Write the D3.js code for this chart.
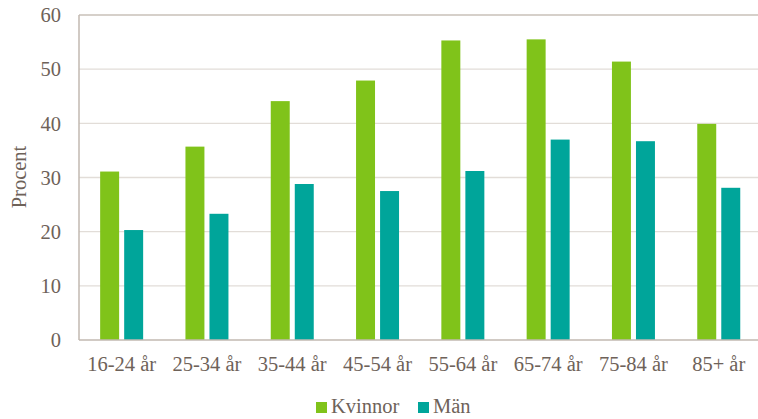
<!DOCTYPE html>
<html lang="sv">
<head>
<meta charset="utf-8">
<title>Procent per åldersgrupp</title>
<script src="https://d3js.org/d3.v7.min.js"></script>
<style>
  body { margin: 0; background: #fff; }
</style>
</head>
<body>
<script>
// data
const ageGroups = ["16-24 år", "25-34 år", "35-44 år", "45-54 år", "55-64 år", "65-74 år", "75-84 år", "85+ år"];
const kvinnor = [31.1, 35.7, 44.1, 47.9, 55.3, 55.5, 51.4, 39.9];
const man = [20.3, 23.3, 28.8, 27.5, 31.2, 37.0, 36.7, 28.1];
const seriesNames = ["Kvinnor", "Män"];
const seriesColors = ["#80c31a", "#00a59a"];
const yTicks = [0, 10, 20, 30, 40, 50, 60];

const W = 758, H = 419;
const plotLeft = 79, plotRight = 761.4, plotTop = 15, plotBottom = 340;
const textColor = "#6e6259";

const svg = d3.select("body").append("svg")
  .attr("width", W).attr("height", H)
  .attr("font-family", "'Liberation Serif', 'Times New Roman', Times, serif")
  .attr("fill", textColor);

const x = d3.scaleBand().domain(ageGroups).range([plotLeft, plotRight]);
const xSub = d3.scaleBand().domain(seriesNames)
  .range([x.bandwidth() / 2 - 21.5, x.bandwidth() / 2 + 21.5])
  .paddingInner(0.21);
const y = d3.scaleLinear().domain([0, 60]).range([plotBottom, plotTop]);

// grid lines
svg.append("g")
  .selectAll("line")
  .data(yTicks.filter(d => d > 0 && d < 60))
  .join("line")
  .attr("x1", plotLeft).attr("x2", W)
  .attr("y1", d => y(d)).attr("y2", d => y(d))
  .attr("stroke", "#e2ddd8").attr("stroke-width", 1.3);

// top border
svg.append("line")
  .attr("x1", plotLeft).attr("x2", W)
  .attr("y1", y(60)).attr("y2", y(60))
  .attr("stroke", "#c9c1b9").attr("stroke-width", 1.5);

// bars
const rows = ageGroups.map((g, i) => ({ group: g, vals: [kvinnor[i], man[i]] }));
svg.append("g")
  .selectAll("g")
  .data(rows)
  .join("g")
  .attr("transform", d => `translate(${x(d.group)},0)`)
  .selectAll("rect")
  .data(d => d.vals.map((v, j) => ({ name: seriesNames[j], v, c: seriesColors[j] })))
  .join("rect")
  .attr("x", d => xSub(d.name))
  .attr("width", xSub.bandwidth())
  .attr("y", d => y(d.v))
  .attr("height", d => y(0) - y(d.v))
  .attr("fill", d => d.c);

// axes lines
svg.append("line")
  .attr("x1", plotLeft).attr("x2", plotLeft)
  .attr("y1", plotTop).attr("y2", plotBottom)
  .attr("stroke", "#c2b9b0").attr("stroke-width", 1.5);
svg.append("line")
  .attr("x1", plotLeft).attr("x2", W)
  .attr("y1", plotBottom).attr("y2", plotBottom)
  .attr("stroke", "#c2b9b0").attr("stroke-width", 1.5);

// y tick labels
svg.append("g")
  .selectAll("text")
  .data(yTicks)
  .join("text")
  .attr("x", 61)
  .attr("y", d => y(d))
  .attr("dy", "0.35em")
  .attr("text-anchor", "end")
  .attr("font-size", 20.5)
  .text(d => d);

// x labels
svg.append("g")
  .selectAll("text")
  .data(ageGroups)
  .join("text")
  .attr("x", d => x(d) + x.bandwidth() / 2)
  .attr("y", 371)
  .attr("text-anchor", "middle")
  .attr("font-size", 20.5)
  .text(d => d);

// y title
svg.append("text")
  .attr("transform", "translate(26,177) rotate(-90)")
  .attr("text-anchor", "middle")
  .attr("font-size", 20.5)
  .text("Procent");

// legend
const legend = svg.append("g").selectAll("g")
  .data(seriesNames)
  .join("g")
  .attr("transform", (d, i) => `translate(${i === 0 ? 316 : 418},402)`);
legend.append("rect")
  .attr("width", 11).attr("height", 11)
  .attr("fill", (d, i) => seriesColors[i]);
legend.append("text")
  .attr("x", 15).attr("y", 11)
  .attr("font-size", 20.5)
  .text(d => d);
</script>
</body>
</html>
